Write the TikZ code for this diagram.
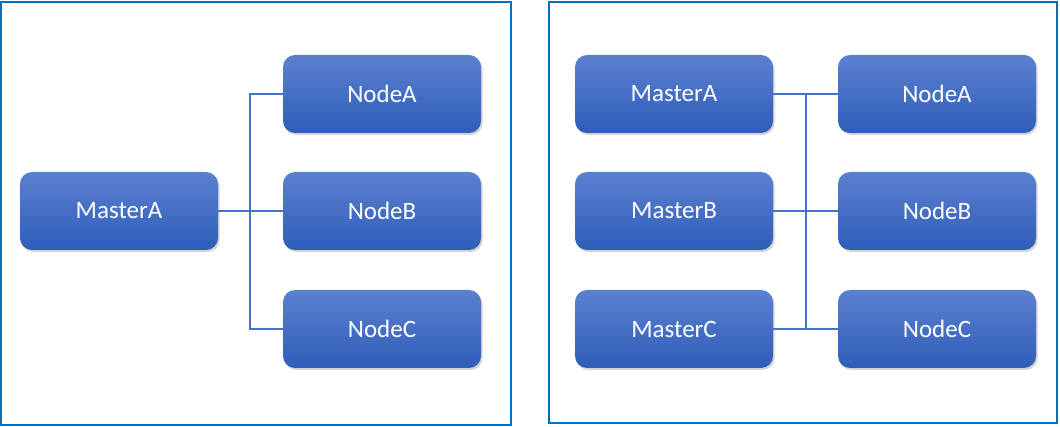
\documentclass[tikz,border=0pt]{standalone}
\usepackage{fontspec}
\setmainfont{Carlito}
\usepackage{tikz}
\usetikzlibrary{shadows}
\definecolor{frameblue}{HTML}{0070C0}
\definecolor{linkblue}{HTML}{4472C4}
\definecolor{boxtop}{HTML}{5B80D0}
\definecolor{boxbot}{HTML}{2F5DB9}

\begin{document}
\begin{tikzpicture}[x=1pt,y=-1pt,
  every node/.style={font=\fontsize{25}{29}\selectfont},
  box/.style={rounded corners=12pt, minimum width=198pt, minimum height=78pt,
    inner sep=0pt, top color=boxtop, bottom color=boxbot, text=white,
    drop shadow={shadow xshift=1.5pt, shadow yshift=-2pt, opacity=0.35, fill=gray}},
  link/.style={draw=linkblue, line width=1.6pt}]
\useasboundingbox (0,0) rectangle (1060,427);
% frames
\draw[frameblue, line width=2pt] (1,2) rectangle (511,425);
\draw[frameblue, line width=2pt] (549,2) rectangle (1057,423);
% left: one master
\node[box] (lmA) at (119,211) {MasterA};
\node[box] (lnA) at (382,94)  {NodeA};
\node[box] (lnB) at (382,211) {NodeB};
\node[box] (lnC) at (382,329) {NodeC};
\draw[link] (lmA.east) -- (lnB.west);
\draw[link] (lnA.west) -- ++(-33,0) |- (lnC.west);
% right: three masters
\node[box] (rmA) at (674,94)  {MasterA};
\node[box] (rmB) at (674,211) {MasterB};
\node[box] (rmC) at (674,329) {MasterC};
\node[box] (rnA) at (937,94)  {NodeA};
\node[box] (rnB) at (937,211) {NodeB};
\node[box] (rnC) at (937,329) {NodeC};
\coordinate (rbusT) at (806,94);
\coordinate (rbusB) at (806,329);
\draw[link] (rmA.east) -- (rnA.west);
\draw[link] (rmB.east) -- (rnB.west);
\draw[link] (rmC.east) -- (rnC.west);
\draw[link] (rbusT) -- (rbusB);
\end{tikzpicture}
\end{document}
